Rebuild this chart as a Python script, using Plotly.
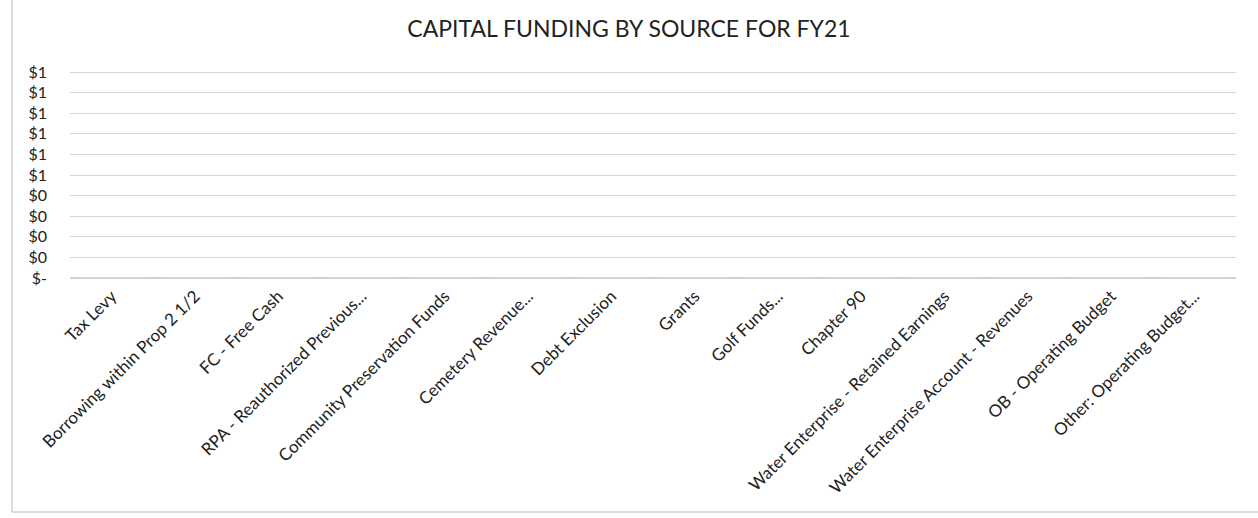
import plotly.graph_objects as go

categories = [
    "Tax Levy",
    "Borrowing within Prop 2 1/2",
    "FC - Free Cash",
    "RPA - Reauthorized Previous...",
    "Community Preservation Funds",
    "Cemetery Revenue...",
    "Debt Exclusion",
    "Grants",
    "Golf Funds...",
    "Chapter 90",
    "Water Enterprise - Retained Earnings",
    "Water Enterprise Account - Revenues",
    "OB - Operating Budget",
    "Other: Operating Budget...",
]
funding = [0, 0, 0, 0, 0, 0, 0, 0, 0, 0, 0, 0, 0, 0]

y_tickvals = [0, 0.1, 0.2, 0.3, 0.4, 0.5, 0.6, 0.7, 0.8, 0.9, 1.0]
y_ticktext = ["$-", "$0", "$0", "$0", "$0", "$1", "$1", "$1", "$1", "$1", "$1"]

FONT = "Lato, 'Open Sans', sans-serif"
W, H = 1258, 518
ML, MR, MT, MB = 70, 22, 71, 240

fig = go.Figure()
fig.add_trace(go.Bar(x=categories, y=funding, marker_color="#4472c4"))

pw = W - ML - MR
ph = H - MT - MB

fig.update_layout(
    width=W,
    height=H,
    paper_bgcolor="white",
    plot_bgcolor="white",
    margin=dict(l=ML, r=MR, t=MT, b=MB),
    showlegend=False,
    font=dict(family=FONT, color="#222222"),
    title=dict(
        text="CAPITAL FUNDING BY SOURCE FOR FY21",
        x=0.5,
        xanchor="center",
        y=1 - 29 / H,
        yanchor="middle",
        font=dict(family=FONT, size=23, color="#222222"),
    ),
    shapes=[
        # chart-area border (left and bottom edges visible in the scan)
        dict(type="line", xref="paper", yref="paper",
             x0=(12 - ML) / pw, x1=(12 - ML) / pw,
             y0=(H - MB - 512) / ph, y1=(H - MB + 10) / ph,
             line=dict(color="#bdbdbd", width=1)),
        dict(type="line", xref="paper", yref="paper",
             x0=(12 - ML) / pw, x1=(W - ML) / pw,
             y0=(H - MB - 512) / ph, y1=(H - MB - 512) / ph,
             line=dict(color="#bdbdbd", width=1)),
    ],
)

fig.update_xaxes(
    tickangle=-45,
    tickfont=dict(family=FONT, size=17, color="#222222"),
    showgrid=False,
    showline=False,
    ticks="",
    ticklabelstandoff=4,
    automargin=False,
)
fig.update_yaxes(
    range=[0, 1.005],
    tickvals=y_tickvals,
    ticktext=y_ticktext,
    tickfont=dict(family=FONT, size=16, color="#222222"),
    showgrid=True,
    gridcolor="#d6d6d6",
    gridwidth=1,
    zeroline=True,
    zerolinecolor="#d0d0d0",
    showline=False,
    ticks="",
    ticklabelstandoff=22,
    automargin=False,
)

fig.write_html("out.html")
